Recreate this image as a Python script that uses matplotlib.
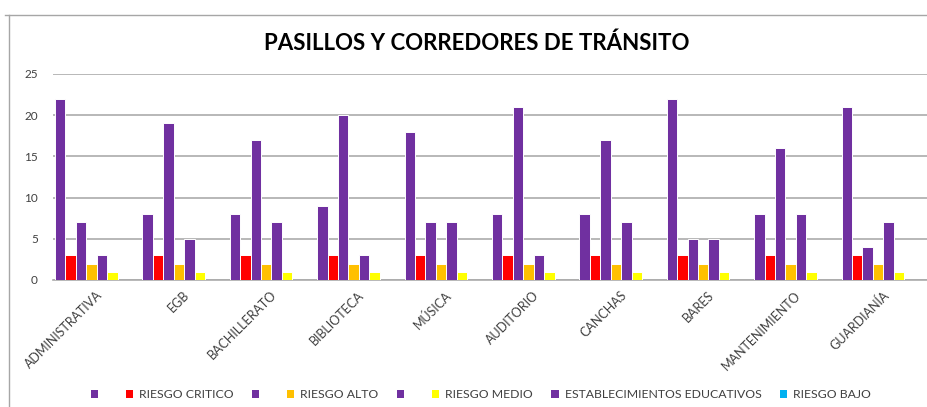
import matplotlib
matplotlib.use("Agg")
import matplotlib.pyplot as plt
from matplotlib.patches import Patch
from matplotlib.lines import Line2D
import matplotlib.transforms as mtransforms
import numpy as np

plt.rcParams['font.family'] = ['Lato', 'DejaVu Sans']

categories = ["ADMINISTRATIVA", "EGB", "BACHILLERATO", "BIBLIOTECA", "MÚSICA",
              "AUDITORIO", "CANCHAS", "BARES", "MANTENIMIENTO", "GUARDIANÍA"]

s1 = [22, 8, 8, 9, 18, 8, 8, 22, 8, 21]          # unnamed (purple)
riesgo_critico = [3, 3, 3, 3, 3, 3, 3, 3, 3, 3]
s3 = [7, 19, 17, 20, 7, 21, 17, 5, 16, 4]         # unnamed (purple)
riesgo_alto = [2, 2, 2, 2, 2, 2, 2, 2, 2, 2]
s5 = [3, 5, 7, 3, 7, 3, 7, 5, 8, 7]               # unnamed (purple)
riesgo_medio = [1, 1, 1, 1, 1, 1, 1, 1, 1, 1]
establecimientos = [0, 0, 0, 0, 0, 0, 0, 0, 0, 0]
riesgo_bajo = [0, 0, 0, 0, 0, 0, 0, 0, 0, 0]

series = [s1, riesgo_critico, s3, riesgo_alto, s5, riesgo_medio, establecimientos, riesgo_bajo]
labels = [" ", "RIESGO CRITICO", " ", "RIESGO ALTO", " ", "RIESGO MEDIO",
          "ESTABLECIMIENTOS EDUCATIVOS", "RIESGO BAJO"]
colors = ["#7030A0", "#FF0000", "#7030A0", "#FFC000", "#7030A0", "#FFFF00",
          "#7030A0", "#00B0F0"]
yticks = [0, 5, 10, 15, 20, 25]

W, H = 928, 407
fig = plt.figure(figsize=(W / 100, H / 100), dpi=100)
ax = fig.add_axes([53 / W, (H - 280) / H, 874 / W, (280 - 73.9) / H])

n = len(series)
w = 1 / (n + 0.4)
x = np.arange(len(categories)) + 0.5
for j, (vals, c) in enumerate(zip(series, colors)):
    ax.bar(x + (j - (n - 1) / 2) * w, vals, width=w, color=c,
           edgecolor="white", linewidth=0.7, zorder=3)

ax.set_xlim(0, len(categories))
ax.set_ylim(0, 25)
ax.set_yticks(yticks)
ax.set_yticklabels([str(t) for t in yticks], fontsize=8.5, color="#404040")
ax.yaxis.grid(True, color="#ABABAB", linewidth=1.2, zorder=0)
ax.tick_params(axis="y", length=0, pad=11)
ax.tick_params(axis="x", length=0)
for s in ["top", "right", "left"]:
    ax.spines[s].set_visible(False)
ax.spines["bottom"].set_color("#ABABAB")
ax.spines["bottom"].set_linewidth(1.2)
ax.set_xticks(x)
ax.set_xticklabels(categories, rotation=45, ha="right", va="top",
                   rotation_mode="anchor", fontsize=9, color="#404040")
for lbl in ax.get_xticklabels():
    lbl.set_transform(lbl.get_transform() + mtransforms.ScaledTranslation(-1 / 100, -4 / 100, fig.dpi_scale_trans))

fig.text(477 / W, 1 - 43 / H, "PASILLOS Y CORREDORES DE TRÁNSITO", ha="center",
         va="center", fontsize=16, fontweight="bold", color="black")

handles = [Patch(facecolor=c, edgecolor="none") for c in colors]
fig.legend(handles, labels, loc="center", bbox_to_anchor=(481 / W, 1 - 395 / H),
           ncol=8, frameon=False, fontsize=8.8, handlelength=0.6, handleheight=0.6,
           handletextpad=0.5, columnspacing=1.5, labelcolor="#404040")

# chart border
fig.add_artist(Line2D([5 / W, 1], [1 - 15 / H, 1 - 15 / H], color="#A6A6A6", linewidth=1))
fig.add_artist(Line2D([9 / W, 9 / W], [0, 1 - 15 / H], color="#A6A6A6", linewidth=1))

fig.savefig("out.png", dpi=100)
